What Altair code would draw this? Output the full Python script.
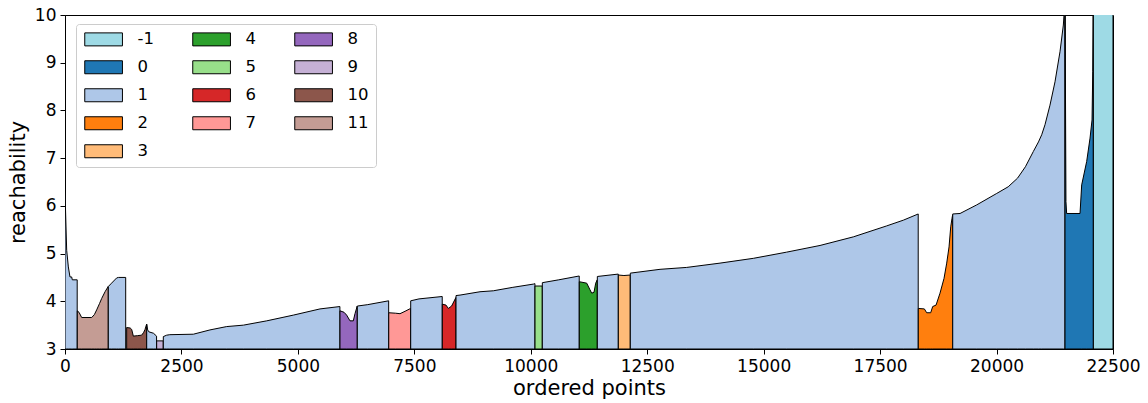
import altair as alt
import pandas as pd

# OPTICS reachability profile, points in cluster order
order_x = [
    0, 36, 72, 107, 143, 157, 262,
    264, 300, 358, 573, 630, 680, 740, 788, 860, 928,
    930, 1000, 1110, 1150, 1303,
    1324, 1400, 1432, 1467, 1560, 1646, 1690, 1718, 1752,
    1754, 1775, 1800, 1900, 1966,
    1968, 2109,
    2111, 2183, 2250, 2755, 3113, 3471, 3829, 4330, 4902, 5475, 5902,
    5904, 5990, 6047, 6119, 6190, 6226, 6274,
    6276, 6500, 6949,
    6951, 7100, 7192, 7300, 7420,
    7422, 7600, 8099,
    8101, 8180, 8230, 8300, 8393,
    8395, 8481, 8910, 9196, 9600, 10055, 10089,
    10091, 10246,
    10248, 10600, 11040,
    11042, 11201, 11272, 11308, 11358, 11394, 11427,
    11429, 11878,
    11880, 12000, 12135,
    12137, 12775, 13348, 14063, 14778, 15494, 16210, 16925, 17641, 17999, 18318,
    18320, 18450, 18500, 18586, 18629, 18701, 18786, 18872, 18930, 18980, 19016, 19044, 19057,
    19059, 19216, 19574, 20003, 20074, 20250, 20450, 20620, 20790, 20900, 20969, 21040, 21147,
    21255, 21362, 21434, 21468,
    21470, 21490, 21505, 21792, 21828, 21935, 22007, 22050, 22065, 22077,
    22079, 22500,
]
reach_y = [
    6.3, 5.07, 4.72, 4.51, 4.51, 4.45, 4.45,
    3.80, 3.77, 3.66, 3.66, 3.72, 3.82, 3.95, 4.06, 4.20, 4.31,
    4.31, 4.38, 4.49, 4.50, 4.50,
    3.45, 3.44, 3.41, 3.27, 3.28, 3.29, 3.35, 3.41, 3.52,
    3.52, 3.40, 3.36, 3.33, 3.27,
    3.17, 3.17,
    3.26, 3.29, 3.30, 3.31, 3.40, 3.47, 3.50, 3.59, 3.71, 3.84, 3.89,
    3.80, 3.77, 3.71, 3.59, 3.59, 3.74, 3.90,
    3.90, 3.93, 4.01,
    3.76, 3.75, 3.74, 3.79, 3.85,
    4.01, 4.05, 4.10,
    3.94, 3.92, 3.85, 3.90, 4.08,
    4.12, 4.13, 4.20, 4.22, 4.29, 4.36, 4.37,
    4.32, 4.32,
    4.39, 4.45, 4.53,
    4.41, 4.38, 4.24, 4.17, 4.19, 4.38, 4.45,
    4.52, 4.57,
    4.55, 4.54, 4.55,
    4.59, 4.67, 4.71, 4.80, 4.90, 5.03, 5.17, 5.35, 5.58, 5.70, 5.83,
    3.85, 3.84, 3.76, 3.76, 3.89, 3.92, 4.17, 4.48, 4.80, 5.14, 5.56, 5.74, 5.81,
    5.83, 5.84, 6.02, 6.26, 6.30, 6.40, 6.58, 6.82, 7.14, 7.34, 7.49, 7.70, 8.11,
    8.60, 9.23, 9.79, 10.3,
    10.5, 6.09, 5.84, 5.84, 6.44, 6.93, 7.42, 7.80, 8.81, 10.5,
    11.0, 11.0,
]
cluster = (
    ["1"] * 7 + ["11"] * 10 + ["1"] * 5 + ["10"] * 9 + ["1"] * 5 + ["9"] * 2
    + ["1"] * 11 + ["8"] * 7 + ["1"] * 3 + ["7"] * 5 + ["1"] * 3 + ["6"] * 5
    + ["1"] * 7 + ["5"] * 2 + ["1"] * 3 + ["4"] * 7 + ["1"] * 2 + ["3"] * 3
    + ["1"] * 11 + ["2"] * 13 + ["1"] * 17 + ["0"] * 10 + ["-1"] * 2
)

# legend entries listed row by row so the 3-column grid reads down each column
legend_order = ["-1", "4", "8", "0", "5", "9", "1", "6", "10", "2", "7", "11", "3"]
legend_colors = ["#9edae5", "#2ca02c", "#9467bd", "#1f77b4", "#98df8a", "#c5b0d5",
                 "#aec7e8", "#d62728", "#8c564b", "#ff7f0e", "#ff9896", "#c49c94",
                 "#ffbb78"]

x_ticks = [0, 2500, 5000, 7500, 10000, 12500, 15000, 17500, 20000, 22500]
y_ticks = [3, 4, 5, 6, 7, 8, 9, 10]

# contiguous runs of one label become separate filled polygons
seg, s = [], 0
for i, c in enumerate(cluster):
    if i > 0 and c != cluster[i - 1]:
        s += 1
    seg.append(s)

df = pd.DataFrame({"x": order_x, "y": reach_y, "cluster": cluster, "seg": seg})

FONT = "DejaVu Sans"

# wide flat patch (13 px tall, ~38 px wide) starting at the entry's left edge
PATCH = "M-1,-1L4.8,-1L4.8,1L-1,1Z"

chart = alt.Chart(df).mark_area(
    stroke="black", strokeWidth=1, clip=True, opacity=1, interpolate="linear"
).encode(
    x=alt.X("x:Q",
            scale=alt.Scale(domain=[0, 22500], nice=False, zero=False),
            axis=alt.Axis(values=x_ticks, title="ordered points", format="d",
                          labelFlush=False)),
    y=alt.Y("y:Q", stack=None,
            scale=alt.Scale(domain=[3, 10], nice=False, zero=False),
            axis=alt.Axis(values=y_ticks, title="reachability", format="d")),
    y2=alt.value("height"),
    color=alt.Color("cluster:N",
                    scale=alt.Scale(domain=legend_order, range=legend_colors),
                    legend=alt.Legend(
                        title=None, orient="none", legendX=11, legendY=9,
                        columns=3, direction="horizontal",
                        symbolType=PATCH,
                        symbolSize=169, symbolStrokeColor="black",
                        symbolStrokeWidth=1, symbolOpacity=1,
                        labelFont=FONT, labelFontSize=16.5, labelColor="black",
                        labelOffset=38, columnPadding=36, rowPadding=10,
                        padding=7, fillColor="white", strokeColor="#cccccc",
                        cornerRadius=3)),
    detail="seg:N",
).properties(
    width=1048, height=334,
    autosize=alt.AutoSizeParams(type="none"),
    padding={"left": 65, "top": 15, "right": 35, "bottom": 54},
).configure_view(
    stroke="black", strokeWidth=1
).configure_axis(
    grid=False, domainColor="black", domainWidth=1, tickColor="black",
    tickSize=5, tickWidth=1, labelPadding=4,
    labelFont=FONT, labelFontSize=17, labelColor="black",
    titleFont=FONT, titleFontSize=21, titleFontWeight="normal", titleColor="black",
).configure_axisX(
    titlePadding=3
).configure_axisY(
    titlePadding=6
)

chart.save("out.html", embed_options={"renderer": "svg", "actions": False})
